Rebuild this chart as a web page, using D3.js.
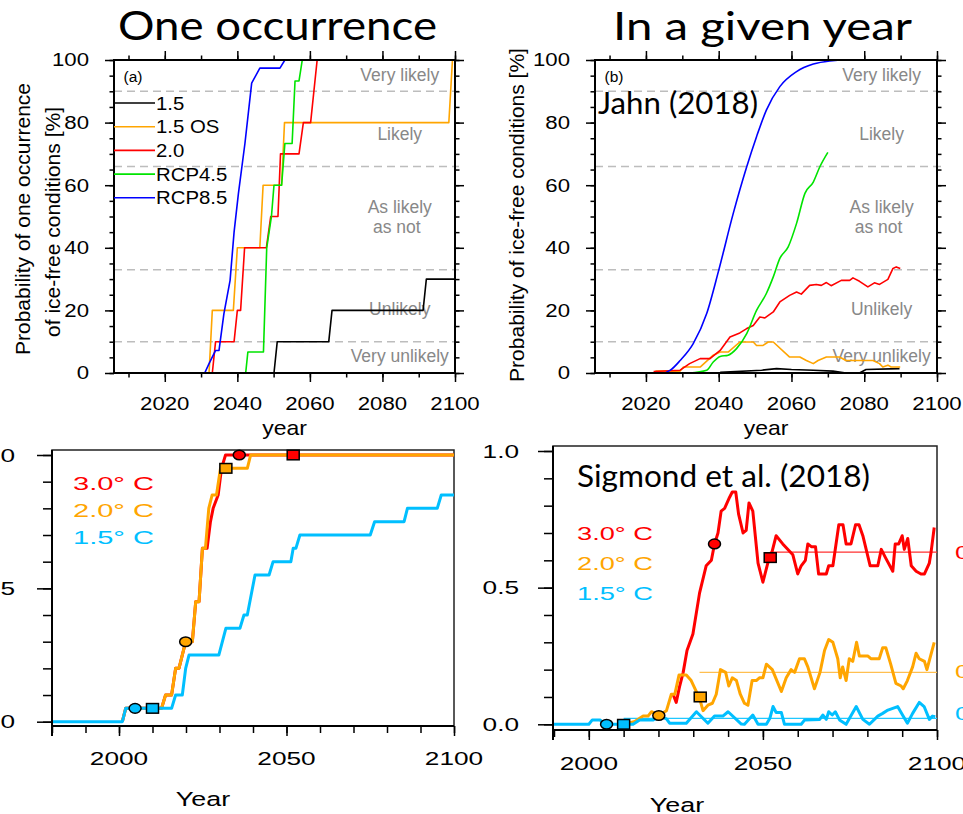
<!DOCTYPE html>
<html><head><meta charset="utf-8">
<script src="https://cdn.jsdelivr.net/npm/d3@7/dist/d3.min.js"></script>
<style>body{margin:0;background:#fff}svg{display:block}</style>
</head><body><svg id="c" width="963" height="814"></svg>
<script>
// ================= DATA =================
// Panel (a): probability of one occurrence [%]
const aSeriesNames = ["1.5", "1.5 OS", "2.0", "RCP4.5", "RCP8.5"];
const aYears15 = [2006, 2050.1, 2051, 2065.2, 2066.1, 2091.2, 2092.1, 2100];
const aVals15 = [0, 0, 10, 10, 20, 20, 30, 30];
const aYears15OS = [2006, 2032.2, 2033.1, 2038.9, 2040, 2046.2, 2047.1, 2052.2, 2053, 2098.3, 2099.3, 2100];
const aVals15OS = [0, 0, 20, 20, 40, 40, 60, 60, 80, 80, 100, 100];
const aYears20 = [2006, 2033.1, 2034, 2039.1, 2040, 2040.9, 2042, 2048, 2049.2, 2051.2, 2051.9, 2057, 2058.2, 2060.2, 2062, 2100];
const aVals20 = [0, 0, 10, 10, 20, 20, 40, 40, 50, 50, 70, 70, 80, 80, 100, 100];
const aYears45 = [2006, 2042.3, 2042.9, 2047.2, 2048.1, 2049.4, 2050.1, 2052.2, 2053.1, 2055.1, 2055.9, 2057, 2057.9, 2100];
const aVals45 = [0, 0, 6.7, 6.7, 40, 50, 60, 60, 73.3, 73.3, 93.3, 93.3, 100, 100];
const aYears85 = [2006, 2031, 2032.2, 2034, 2034.95, 2036.3, 2038, 2039.1, 2040.3, 2042.1, 2043.95, 2046.2, 2051.75, 2053.1, 2100];
const aVals85 = [0, 0, 3, 7.2, 7.2, 19, 29.6, 45, 57.4, 73.4, 92.6, 97.4, 97.4, 100, 100];

// Panel (b): probability in a given year [%]
const bYears15 = [2040.4, 2051.8, 2055.9, 2060, 2066, 2071.4, 2075, 2078.7, 2080.5, 2089.7];
const bVals15 = [0.2, 0.9, 1.4, 1.1, 0.9, 0.6, 0, 0, 1.1, 1.4];
const bYears15OS = [2022.6, 2029.4, 2030.3, 2034.9, 2038.5, 2040.4, 2042.6, 2045.8, 2049.5, 2050.4, 2052.2, 2053.6, 2055, 2059.5, 2062.3, 2064.1, 2066, 2067.3, 2069.6, 2073.2, 2075, 2082.4, 2084.2, 2085.1, 2086.5, 2087.4, 2089.9];
const bVals15OS = [0.6, 0.6, 1.9, 1.9, 5.7, 6.7, 6.7, 9.9, 9.9, 8.8, 8.8, 9.9, 9.9, 5.1, 5.1, 4, 3, 4, 5.1, 5.1, 4, 4, 3, 1.9, 2.5, 1.9, 1.9];
const bYears20 = [2022.1, 2029.4, 2032, 2034.9, 2037.6, 2040.4, 2043.1, 2045.8, 2047.7, 2049.5, 2051.3, 2052.7, 2055, 2056.8, 2059.5, 2061.4, 2062.7, 2065, 2066.8, 2068.2, 2069.6, 2070.9, 2073.7, 2076, 2076.9, 2078.7, 2081, 2082.8, 2084.2, 2086.5, 2087.9, 2088.8, 2089.9];
const bVals20 = [0.5, 0.9, 3, 4.6, 4.6, 7.2, 11.5, 12.8, 14.2, 15.2, 17.9, 17.6, 19.5, 22.7, 24.8, 25.9, 25.2, 28, 28.3, 28, 28.9, 27.9, 29.6, 29.6, 30.4, 29.3, 27.5, 28.8, 28.3, 29.9, 33.4, 33.9, 33.4];
const bYears45 = [2032, 2036.7, 2038.5, 2040.4, 2042.6, 2044.9, 2047.7, 2050.4, 2053.1, 2055, 2056.8, 2059.1, 2061.4, 2063.7, 2066, 2067.8, 2070];
const bVals45 = [0, 0.9, 3.5, 5.3, 5.7, 7.8, 12.6, 20, 25.4, 30.7, 36.6, 40.3, 47.8, 57.4, 61, 65.9, 70.5];
const bYears85 = [2025.5, 2026.7, 2029.4, 2033, 2036.7, 2040, 2044, 2047.7, 2050.4, 2053.1, 2056.8, 2061.4, 2066, 2070.5, 2075, 2090];
const bVals85 = [0.2, 0.9, 4, 9.4, 19, 32.8, 51, 65.9, 75.5, 84, 91.5, 96.3, 98.7, 99.7, 100, 100];

// Top panels: ticks, likelihood thresholds and labels
const topYTicks = [0, 20, 40, 60, 80, 100];
const topYMinor = d3.range(0, 101, 5);
const topXTicks = [2020, 2040, 2060, 2080, 2100];
const topXMinor = d3.range(2010, 2101, 10);
const likelihoodLevels = [90, 66, 33, 10];
const likelihoodLabels = ["Very likely", "Likely", "As likely", "as not", "Unlikely", "Very unlikely"];

// Panel (c): one occurrence (Sigmond et al.)
const cScenarios = ["3.0\u00b0 C", "2.0\u00b0 C", "1.5\u00b0 C"];
const cYears30 = [2001, 2002, 2012.7, 2013.9, 2015.7, 2016.9, 2017.9, 2019.9, 2021.9, 2022.9, 2023.9, 2024.9, 2026.3, 2027.3, 2028.1, 2029.6, 2030.6, 2031.8, 2100];
const cVals30 = [0, 0.05, 0.05, 0.1, 0.1, 0.2, 0.2, 0.3, 0.3, 0.45, 0.45, 0.65, 0.65, 0.75, 0.8, 0.85, 0.95, 1, 1];
const cYears20 = [2001, 2002, 2012.7, 2013.9, 2015.7, 2016.9, 2017.9, 2019.9, 2021.9, 2022.9, 2023.9, 2024.9, 2025.8, 2026.8, 2027.8, 2029.1, 2030.3, 2038.3, 2039.3, 2100];
const cVals20 = [0, 0.05, 0.05, 0.1, 0.1, 0.2, 0.2, 0.3, 0.3, 0.45, 0.45, 0.65, 0.65, 0.8, 0.85, 0.85, 0.95, 0.95, 1, 1];
const cYears15 = [1980, 2001, 2002, 2015.7, 2016.9, 2018.9, 2019.9, 2020.9, 2029.8, 2031.9, 2036.1, 2037.3, 2038.3, 2040.6, 2044.8, 2046, 2051.3, 2052, 2052.8, 2054, 2075, 2076.3, 2085.1, 2086.1, 2095, 2096.2, 2100];
const cVals15 = [0, 0, 0.05, 0.05, 0.1, 0.1, 0.2, 0.25, 0.25, 0.35, 0.35, 0.4, 0.4, 0.55, 0.55, 0.6, 0.6, 0.65, 0.65, 0.7, 0.7, 0.75, 0.75, 0.8, 0.8, 0.85, 0.85];
const cCircleYears = [2035.9, 2019.9, 2004.8];
const cCircleVals = [1.0, 0.3, 0.05];
const cSquareYears = [2052, 2031.9, 2010];
const cSquareVals = [1.0, 0.95, 0.05];

// Panel (d): in a given year (Sigmond et al.)
const dYears30 = [2024.2, 2025.1, 2026.1, 2027.1, 2028.2, 2029.9, 2031.8, 2033.7, 2035.2, 2036.1, 2037.1, 2038, 2039, 2040.4, 2041.2, 2042.2, 2043, 2044.3, 2045.2, 2046, 2047.1, 2048.6, 2050, 2051.4, 2052.4, 2053.8, 2055.7, 2058.6, 2060, 2061, 2062.2, 2062.9, 2063.9, 2065.1, 2066, 2068.2, 2068.9, 2070.1, 2071.8, 2073, 2073.9, 2075.3, 2076.6, 2077.6, 2078.7, 2080.8, 2083, 2084, 2085.2, 2087.3, 2088, 2089, 2090, 2090.6, 2091.6, 2092.6, 2094, 2095.4, 2096.4, 2097.8, 2098.3, 2099.2];
const dVals30 = [0.11, 0.08, 0.14, 0.19, 0.27, 0.33, 0.48, 0.58, 0.60, 0.66, 0.70, 0.78, 0.79, 0.83, 0.85, 0.85, 0.77, 0.70, 0.71, 0.81, 0.78, 0.59, 0.52, 0.59, 0.62, 0.69, 0.66, 0.62, 0.55, 0.58, 0.60, 0.66, 0.65, 0.65, 0.55, 0.55, 0.58, 0.58, 0.73, 0.73, 0.66, 0.66, 0.73, 0.73, 0.69, 0.58, 0.58, 0.64, 0.61, 0.56, 0.66, 0.66, 0.69, 0.64, 0.68, 0.58, 0.56, 0.55, 0.55, 0.59, 0.63, 0.72];
const dYears20 = [2010.3, 2013.2, 2015.6, 2017, 2018, 2020, 2021.1, 2022.3, 2023.7, 2024.7, 2025.9, 2028, 2029.4, 2031.8, 2032.8, 2034.2, 2035.5, 2036.6, 2037.8, 2039.3, 2040.2, 2041.2, 2042.4, 2043.5, 2044.7, 2045.7, 2046.9, 2048.1, 2049, 2050, 2051, 2052.7, 2055.3, 2056.7, 2058.1, 2059.1, 2060.5, 2061.9, 2062.9, 2064.8, 2066.4, 2067.7, 2068.9, 2070.1, 2071.5, 2072.2, 2072.9, 2073.9, 2074.8, 2075.8, 2076.9, 2077.7, 2080.1, 2081, 2083.4, 2084.4, 2085.3, 2086.7, 2088.2, 2089.7, 2090.3, 2091.5, 2093, 2094, 2094.9, 2096.4, 2097.1, 2099.2];
const dVals20 = [0, 0.01, 0.03, 0.03, 0.046, 0.034, 0.04, 0.05, 0.11, 0.11, 0.18, 0.18, 0.16, 0.095, 0.05, 0.07, 0.077, 0.11, 0.2, 0.19, 0.14, 0.17, 0.16, 0.11, 0.077, 0.07, 0.16, 0.16, 0.17, 0.17, 0.22, 0.2, 0.12, 0.17, 0.2, 0.19, 0.24, 0.24, 0.21, 0.13, 0.19, 0.27, 0.31, 0.30, 0.24, 0.17, 0.21, 0.16, 0.24, 0.23, 0.30, 0.25, 0.25, 0.24, 0.24, 0.28, 0.28, 0.22, 0.15, 0.14, 0.13, 0.16, 0.21, 0.26, 0.24, 0.23, 0.2, 0.30];
const dYears15 = [1990, 2000, 2001, 2003.2, 2004.6, 2012.7, 2014.6, 2018.5, 2020.4, 2022.3, 2023.2, 2028, 2030.9, 2034.2, 2036.1, 2038.5, 2040, 2043.8, 2044.7, 2047.1, 2048.6, 2051, 2052, 2052.9, 2053.8, 2055.3, 2056.2, 2061, 2062, 2066.3, 2067.2, 2068.2, 2068.9, 2069.9, 2070.8, 2072, 2073.9, 2076.8, 2078.7, 2080.6, 2083, 2084.4, 2085.9, 2088.7, 2090.1, 2091.5, 2093, 2094.9, 2096.3, 2097.8, 2098.7, 2099.5];
const dVals15 = [0, 0, 0.016, 0.016, 0, 0, 0.016, 0.016, 0.03, 0.02, 0.004, 0.004, 0.046, 0.004, 0.03, 0.03, 0.046, 0.001, 0, 0.034, 0, 0, 0.022, 0.065, 0.043, 0.043, 0, 0, 0.016, 0.018, 0.034, 0.018, 0.046, 0.034, 0.046, 0.016, 0, 0.065, 0.018, 0, 0.03, 0.04, 0.052, 0.065, 0.034, 0.004, 0.04, 0.08, 0.065, 0.018, 0.03, 0.028];
const dMeanStart = [2052, 2031.8, 2010];
const dMeanVals = [0.63, 0.19, 0.022];
const dMeanLabels = ["0.63", "0.19", "0.02"];
const dCircleYears = [2036.1, 2020.1, 2005.1];
const dCircleVals = [0.66, 0.032, 0];
const dSquareYears = [2052.1, 2032, 2010];
const dSquareVals = [0.61, 0.1, 0];

const bottomYTicks = [0, 0.5, 1.0];
const bottomYMinor = d3.range(0, 1.001, 0.1);
const bottomXTicks = [2000, 2050, 2100];

// ================= STYLE =================
const SANS = '"Liberation Sans", Arial, Helvetica, sans-serif';
const TITLE = 'Lato, "Open Sans", sans-serif';
const topColors = ["#000000", "#ffa500", "#ff0000", "#00e400", "#0000ff"];
const botColors = ["#ff0000", "#ffa500", "#00bfff"];
const meanColors = ["#ff3030", "#ffbf50", "#20c8ff"];

const svg = d3.select("#c");
const defs = svg.append("defs");

function txt(g, x, y, s, o = {}) {
  const t = g.append("text")
    .attr("transform", `translate(${x},${y}) scale(${o.sx || 1},1)`)
    .attr("text-anchor", o.anchor || "middle")
    .attr("dominant-baseline", o.baseline || "central")
    .attr("font-size", o.size || 18)
    .attr("font-family", o.family || SANS)
    .attr("fill", o.fill || "#000")
    .text(s);
  if (o.len) t.attr("textLength", o.len).attr("lengthAdjust", "spacingAndGlyphs");
  return t;
}
function pts(years, vals) { return years.map((y, i) => [y, vals[i]]); }
function clip(id, x0, y0, x1, y1) {
  defs.append("clipPath").attr("id", id).append("rect")
    .attr("x", x0).attr("y", y0).attr("width", x1 - x0).attr("height", y1 - y0);
}
function ticks(g, axis, tr) {
  g.append("g").attr("transform", tr).call(axis)
    .call(s => s.select(".domain").remove())
    .call(s => s.selectAll("line").attr("stroke", "#000").attr("stroke-width", 1.5));
}

// ================= TITLES =================
txt(svg, 118, 40, "One occurrence", { anchor: "start", baseline: "auto", size: 40, family: TITLE, len: 319 });
txt(svg, 613, 40, "In a given year", { anchor: "start", baseline: "auto", size: 39, family: TITLE, len: 299 });

// ================= TOP PANELS =================
function topPanel(id, x0, x1, series, curves, label) {
  const y0 = 60, y1 = 373;
  const xs = d3.scaleLinear([2006, 2100], [x0, x1]);
  const ys = d3.scaleLinear([0, 100], [y1, y0]);
  const g = svg.append("g");
  clip(id, x0, y0, x1, y1);
  g.selectAll(".thr").data(likelihoodLevels).join("line")
    .attr("x1", x0).attr("x2", x1 + 4)
    .attr("y1", d => ys(d)).attr("y2", d => ys(d))
    .attr("stroke", "#bdbdbd").attr("stroke-width", 1.5).attr("stroke-dasharray", "8,5");
  const cx = x0 + (x1 - x0) * 0.838;
  const labY = [95.2, 76.4, 53, 46.6, 20.4, 5.4];
  likelihoodLabels.forEach((s, i) => txt(g, cx - (i === 3 ? 3 : 0), ys(labY[i]), s, { size: 17.5, fill: "#888" }));
  const lg = g.append("g").attr("clip-path", `url(#${id})`);
  series.forEach((d, i) => {
    lg.append("path").datum(d)
      .attr("d", d3.line().x(p => xs(p[0])).y(p => ys(p[1])).curve(curves[i]))
      .attr("fill", "none").attr("stroke", topColors[i]).attr("stroke-width", 1.6)
      .attr("stroke-linejoin", "round");
  });
  g.append("rect").attr("x", x0).attr("y", y0).attr("width", x1 - x0).attr("height", y1 - y0)
    .attr("fill", "none").attr("stroke", "#000").attr("stroke-width", 2);
  ticks(g, d3.axisBottom(xs).tickValues(topXMinor).tickSize(4.5).tickFormat(""), `translate(0,${y1})`);
  ticks(g, d3.axisBottom(xs).tickValues(topXTicks).tickSize(9).tickFormat(""), `translate(0,${y1})`);
  ticks(g, d3.axisTop(xs).tickValues(topXMinor).tickSize(4.5).tickFormat(""), `translate(0,${y0})`);
  ticks(g, d3.axisTop(xs).tickValues(topXTicks).tickSize(9).tickFormat(""), `translate(0,${y0})`);
  ticks(g, d3.axisLeft(ys).tickValues(topYMinor).tickSize(4.5).tickFormat(""), `translate(${x0},0)`);
  ticks(g, d3.axisLeft(ys).tickValues(topYTicks).tickSize(9).tickFormat(""), `translate(${x0},0)`);
  ticks(g, d3.axisRight(ys).tickValues(topYMinor).tickSize(4.5).tickFormat(""), `translate(${x1},0)`);
  ticks(g, d3.axisRight(ys).tickValues(topYTicks).tickSize(9).tickFormat(""), `translate(${x1},0)`);
  topYTicks.forEach(v => txt(g, x0 - 25, ys(v), String(v), { anchor: "end", size: 18.5, sx: 1.2 }));
  topXTicks.forEach(v => txt(g, xs(v), 404, String(v), { size: 18.5, sx: 1.2 }));
  txt(g, (x0 + x1) / 2, 435, "year", { baseline: "auto", size: 20, sx: 1.15 });
  txt(g, x0 + 19, 76, label, { size: 15.5 });
  return { g, xs, ys };
}

const A = topPanel("clipA", 114, 455,
  [pts(aYears15, aVals15), pts(aYears15OS, aVals15OS), pts(aYears20, aVals20), pts(aYears45, aVals45), pts(aYears85, aVals85)],
  Array(5).fill(d3.curveLinear), "(a)");
aSeriesNames.forEach((s, i) => {
  const y = 103 + i * 23.7;
  A.g.append("line").attr("x1", 114).attr("x2", 155).attr("y1", y).attr("y2", y)
    .attr("stroke", topColors[i]).attr("stroke-width", 1.6);
  txt(A.g, 156, y, s, { anchor: "start", size: 18.5, sx: 1.1 });
});
svg.append("text").attr("transform", "translate(22,219) rotate(-90)")
  .attr("text-anchor", "middle").attr("dominant-baseline", "central")
  .attr("font-size", 21).attr("font-family", SANS).text("Probability of one occurrence");
svg.append("text").attr("transform", "translate(52,222) rotate(-90)")
  .attr("text-anchor", "middle").attr("dominant-baseline", "central")
  .attr("font-size", 21).attr("font-family", SANS).text("of ice-free conditions [%]");

const B = topPanel("clipB", 595, 937,
  [pts(bYears15, bVals15), pts(bYears15OS, bVals15OS), pts(bYears20, bVals20), pts(bYears45, bVals45), pts(bYears85, bVals85)],
  [d3.curveLinear, d3.curveLinear, d3.curveLinear, d3.curveMonotoneX, d3.curveMonotoneX], "(b)");
svg.append("text").attr("transform", "translate(516,215) rotate(-90)")
  .attr("text-anchor", "middle").attr("dominant-baseline", "central")
  .attr("font-size", 21).attr("font-family", SANS).text("Probability of ice-free conditions [%]");
txt(svg, 598, 114, "Jahn (2018)", { anchor: "start", baseline: "auto", size: 30, family: TITLE, len: 160 });

// ================= BOTTOM PANELS =================
function bottomPanel(id, fx0, fx1, fy0, fy1, xDom, xR, yR, labelOff, xLabY, yearPos) {
  const xs = d3.scaleLinear(xDom, xR);
  const ys = d3.scaleLinear([0, 1], yR);
  const g = svg.append("g");
  clip(id, fx0, fy0, fx1, fy1);
  g.append("rect").attr("x", fx0).attr("y", fy0).attr("width", fx1 - fx0).attr("height", fy1 - fy0)
    .attr("fill", "none").attr("stroke", "#222").attr("stroke-width", 1.5);
  const lg = g.append("g").attr("clip-path", `url(#${id})`);
  g.append("line").attr("x1", fx0).attr("x2", fx0).attr("y1", fy0).attr("y2", fy1 + 10).attr("stroke", "#000").attr("stroke-width", 2);
  g.append("line").attr("x1", fx0).attr("x2", fx1).attr("y1", fy1).attr("y2", fy1).attr("stroke", "#000").attr("stroke-width", 2);
  const xMinor = d3.range(xDom[0], xDom[1] + 0.1, 10);
  ticks(g, d3.axisBottom(xs).tickValues(xMinor).tickSize(7).tickFormat(""), `translate(0,${fy1})`);
  ticks(g, d3.axisBottom(xs).tickValues(bottomXTicks).tickSize(10).tickFormat(""), `translate(0,${fy1})`);
  ticks(g, d3.axisLeft(ys).tickValues(bottomYMinor).tickSize(9).tickFormat(""), `translate(${fx0},0)`);
  ticks(g, d3.axisLeft(ys).tickValues(bottomYTicks).tickSize(15).tickFormat(""), `translate(${fx0},0)`);
  bottomYTicks.forEach(v => txt(g, fx0 - labelOff, ys(v), d3.format(".1f")(v), { anchor: "end", size: 19, sx: 1.38 }));
  bottomXTicks.forEach(v => txt(g, xs(v), xLabY, String(v), { size: 19, sx: 1.38 }));
  txt(g, yearPos[0], yearPos[1], "Year", { size: 19.5, sx: 1.38 });
  return { g, lg, xs, ys };
}
function drawLine(P, data, color, w) {
  P.lg.append("path").datum(data)
    .attr("d", d3.line().x(p => P.xs(p[0])).y(p => P.ys(p[1])))
    .attr("fill", "none").attr("stroke", color).attr("stroke-width", w)
    .attr("stroke-linejoin", "round");
}
function markers(P, cy, cv, sy, sv) {
  cy.forEach((yr, i) => P.g.append("ellipse").attr("cx", P.xs(yr)).attr("cy", P.ys(cv[i]))
    .attr("rx", 6).attr("ry", 4.8).attr("fill", botColors[i]).attr("stroke", "#000").attr("stroke-width", 1.5));
  sy.forEach((yr, i) => P.g.append("rect").attr("x", P.xs(yr) - 6).attr("y", P.ys(sv[i]) - 4.8)
    .attr("width", 12).attr("height", 9.6).attr("fill", botColors[i]).attr("stroke", "#000").attr("stroke-width", 1.5));
}

// Panel (c)
const C = bottomPanel("clipC", 52, 454, 450, 726, [1980, 2100], [52, 454], [721.7, 455], 37, 758, [203, 799]);
drawLine(C, pts(cYears30, cVals30), botColors[0], 3);
drawLine(C, pts(cYears20, cVals20), botColors[1], 3);
drawLine(C, pts(cYears15, cVals15), botColors[2], 3);
markers(C, cCircleYears, cCircleVals, cSquareYears, cSquareVals);
cScenarios.forEach((s, i) => txt(C.g, 73, 483 + i * 27, s, { anchor: "start", size: 18.5, fill: botColors[i], len: 81 }));

// Panel (d)
const D = bottomPanel("clipD", 553, 937, 446, 730, [1990, 2100], [554, 937], [724.3, 451], 34, 763, [677, 805]);
dMeanVals.forEach((v, i) => D.lg.append("line")
  .attr("x1", D.xs(dMeanStart[i])).attr("x2", 937).attr("y1", D.ys(v)).attr("y2", D.ys(v))
  .attr("stroke", meanColors[i]).attr("stroke-width", 1.2));
drawLine(D, pts(dYears30, dVals30), botColors[0], 3);
drawLine(D, pts(dYears20, dVals20), botColors[1], 3);
drawLine(D, pts(dYears15, dVals15), botColors[2], 3);
markers(D, dCircleYears, dCircleVals, dSquareYears, dSquareVals);
cScenarios.forEach((s, i) => txt(D.g, 577, 533 + i * 30, s, { anchor: "start", size: 18.5, fill: botColors[i], len: 76 }));
dMeanLabels.forEach((s, i) => txt(D.g, 955, D.ys(dMeanVals[i]) + [0, -1, -5][i], s, { anchor: "start", size: 19, sx: 1.38, fill: botColors[i] }));
txt(svg, 577, 487, "Sigmond et al. (2018)", { anchor: "start", baseline: "auto", size: 30, family: TITLE, len: 293 });
</script></body></html>
